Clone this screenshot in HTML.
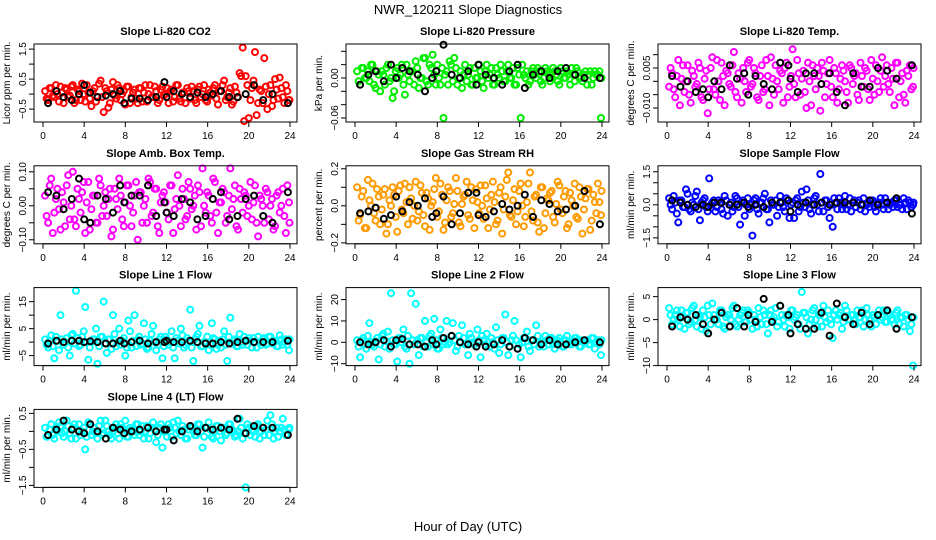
<!DOCTYPE html>
<html><head><meta charset="utf-8"><style>
html,body{margin:0;padding:0;background:#fff;}
svg{display:block;font-family:"Liberation Sans",sans-serif;}
</style></head><body>
<svg id="chart" width="936" height="540" viewBox="0 0 936 540" xmlns="http://www.w3.org/2000/svg">
<rect width="936" height="540" fill="#fff"/>
<text x="468" y="14" text-anchor="middle" font-size="13">NWR_120211  Slope Diagnostics</text>
<text x="468" y="531" text-anchor="middle" font-size="13">Hour of Day (UTC)</text>
</svg>
<script>
const hours = [0.2,0.5,0.8,1.1,1.4,1.7,2.0,2.3,2.6,2.9,3.2,3.5,3.8,4.1,4.4,4.7,5.0,5.3,5.6,5.9,6.2,6.5,6.8,7.1,7.4,7.7,8.0,8.3,8.6,8.9,9.2,9.5,9.8,10.1,10.4,10.7,11.0,11.3,11.6,11.9,12.2,12.5,12.8,13.1,13.4,13.7,14.0,14.3,14.6,14.9,15.2,15.5,15.8,16.1,16.4,16.7,17.0,17.3,17.6,17.9,18.2,18.5,18.8,19.1,19.4,19.7,20.0,20.3,20.6,20.9,21.2,21.5,21.8,22.1,22.4,22.7,23.0,23.3,23.6,23.9];
const hoursB = [0.35,0.65,0.95,1.25,1.55,1.85,2.15,2.45,2.75,3.05,3.35,3.65,3.95,4.25,4.55,4.85,5.15,5.45,5.75,6.05,6.35,6.65,6.95,7.25,7.55,7.85,8.15,8.45,8.75,9.05,9.35,9.65,9.95,10.25,10.55,10.85,11.15,11.45,11.75,12.05,12.35,12.65,12.95,13.25,13.55,13.85,14.15,14.45,14.75,15.05,15.35,15.65,15.95,16.25,16.55,16.85,17.15,17.45,17.75,18.05,18.35,18.65,18.95,19.25,19.55,19.85,20.15,20.45,20.75,21.05,21.35,21.65,21.95,22.25,22.55,22.85,23.15,23.45,23.75,23.95];
const hoursK = [0.5,1.3,2.0,2.8,3.5,4.0,4.6,5.3,6.1,6.8,7.5,7.9,8.6,9.4,10.2,11.0,11.8,12.0,12.7,13.5,14.3,15.0,15.8,16.5,17.3,18.1,18.9,19.7,20.5,21.4,22.3,23.8];
const xTicks = [0,4,8,12,16,20,24];

const co2A = [0.1,-0.2,0.2,-0.1,0.0,0.25,-0.3,0.15,-0.05,0.3,-0.2,0.1,0.35,-0.25,0.05,-0.4,0.2,-0.1,0.45,-0.6,0.1,-0.3,0.4,-0.15,0.2,0.0,-0.35,0.25,-0.1,0.15,-0.3,0.2,0.05,-0.25,0.3,-0.1,0.1,-0.2,0.25,0.0,-0.3,0.15,-0.1,0.3,-0.25,0.05,0.2,-0.15,0.1,-0.3,0.25,0.0,-0.2,0.15,-0.05,0.3,-0.35,0.1,0.45,-0.1,0.2,-0.25,0.05,0.7,1.55,0.6,-0.8,0.2,1.4,-0.3,0.1,1.2,-0.5,0.3,-0.2,0.15,0.55,-0.1,0.3,-0.2];
const co2B = [-0.15,0.2,-0.05,0.3,-0.25,0.05,0.2,-0.1,0.25,-0.3,0.15,-0.2,0.0,0.3,-0.15,0.1,-0.25,0.35,-0.1,0.2,-0.45,0.15,-0.05,0.3,-0.2,0.1,0.25,-0.3,0.05,-0.15,0.2,-0.25,0.3,0.0,-0.1,0.25,-0.3,0.15,-0.05,0.2,0.1,-0.25,0.3,-0.15,0.05,-0.3,0.1,0.25,-0.2,0.15,-0.1,0.3,-0.25,0.05,0.2,-0.15,0.1,0.3,-0.2,0.05,-0.35,0.25,-0.1,0.6,-0.9,0.3,-0.2,0.45,-0.7,0.15,-0.3,0.25,0.0,-0.4,0.5,-0.15,0.2,-0.3,0.1,-0.2];
const co2K = [-0.3,0.1,-0.1,-0.2,0.0,0.3,0.05,-0.1,-0.05,0.0,0.1,-0.3,-0.15,-0.15,-0.2,-0.1,0.4,-0.1,0.1,0.0,-0.1,0.05,-0.1,0.0,0.1,-0.1,-0.1,0.0,0.3,-0.2,0.0,-0.3];

const presA = [0.01,-0.01,0.015,0.0,-0.005,0.02,-0.015,0.005,0.01,-0.01,0.02,0.0,-0.02,0.015,0.005,-0.01,0.02,-0.005,0.01,0.025,-0.015,0.0,0.03,-0.01,0.015,0.005,0.02,-0.01,-0.06,0.01,0.025,-0.005,0.015,0.0,-0.015,0.02,0.005,-0.01,0.015,0.0,0.01,-0.015,0.02,0.005,-0.01,0.015,0.0,0.01,-0.005,0.02,0.0,-0.01,0.015,-0.06,0.005,0.01,-0.005,0.015,0.0,0.01,-0.01,0.015,0.005,0.0,0.01,-0.005,0.015,0.0,0.01,-0.01,0.005,0.015,0.0,-0.005,0.01,0.005,-0.01,0.01,0.005,-0.06];
const presB = [-0.005,0.015,0.0,0.01,0.02,-0.01,0.01,-0.02,0.005,0.015,-0.005,-0.03,0.01,0.0,0.02,-0.025,0.005,0.01,-0.01,0.015,0.0,0.03,-0.005,0.02,0.035,-0.01,0.0,0.015,0.005,-0.01,0.02,0.03,-0.01,0.01,0.005,-0.005,0.015,-0.01,0.0,0.02,-0.005,0.01,0.0,0.015,-0.01,0.005,0.02,-0.005,0.01,0.0,0.015,-0.01,0.005,0.02,0.0,-0.01,0.01,0.005,0.015,-0.005,0.0,0.01,-0.005,0.015,0.005,-0.01,0.01,0.0,0.005,0.015,-0.005,0.01,0.0,0.005,-0.01,0.01,0.0,0.005,0.01,0.0];
const presK = [-0.01,0.005,0.01,-0.005,0.02,0.0,0.015,0.01,0.005,-0.02,0.0,0.01,0.05,0.005,0.0,0.01,-0.01,0.02,0.005,0.0,-0.01,0.01,0.02,-0.015,0.005,0.01,0.0,0.01,0.015,0.005,0.0,0.0];

const tempA = [-0.002,0.003,-0.006,0.008,0.001,-0.004,0.006,-0.008,0.002,-0.001,0.005,-0.007,0.004,-0.003,0.009,-0.005,0.0,0.007,-0.009,0.003,-0.002,0.011,-0.006,0.001,0.005,-0.004,0.008,-0.001,0.003,-0.007,0.006,-0.003,0.002,0.009,-0.005,0.0,0.004,-0.008,0.007,-0.002,0.012,-0.006,0.003,0.001,-0.004,0.007,-0.009,0.002,0.005,-0.011,0.004,-0.001,0.008,-0.006,0.003,-0.003,0.006,0.0,-0.008,0.005,0.002,-0.005,0.007,-0.002,0.004,-0.007,0.001,0.006,-0.004,0.009,0.002,-0.001,0.005,-0.009,0.007,0.0,-0.005,0.004,0.006,-0.002];
const tempB = [0.005,-0.003,0.002,-0.009,0.006,0.0,-0.005,0.004,-0.002,0.007,-0.006,0.001,-0.012,0.005,-0.003,0.008,-0.007,0.002,0.004,-0.001,0.006,-0.004,0.003,-0.008,0.0,0.007,-0.002,0.005,-0.006,0.002,-0.004,0.008,-0.009,0.001,0.006,-0.003,0.003,0.005,-0.006,0.002,-0.001,0.008,-0.005,0.004,-0.01,0.0,0.006,-0.003,0.002,0.007,-0.006,0.003,-0.002,0.005,-0.008,0.001,0.004,-0.004,0.006,-0.001,0.003,-0.007,0.002,0.005,-0.003,0.008,-0.005,0.0,0.004,-0.002,0.006,-0.004,0.001,0.007,-0.006,0.003,-0.008,0.002,-0.003,0.005];
const tempK = [0.002,-0.002,0.0,-0.004,-0.003,-0.006,0.0,-0.003,0.006,0.001,0.003,-0.005,0.002,-0.001,-0.003,0.007,0.006,0.001,-0.004,0.003,0.003,-0.001,0.003,-0.004,-0.009,0.003,-0.002,-0.002,0.005,0.004,0.001,0.006];

const ambA = [0.03,-0.05,0.08,-0.02,0.05,-0.07,0.01,0.06,-0.04,0.1,-0.06,0.02,0.04,-0.08,0.07,-0.01,0.03,-0.05,0.06,0.0,-0.03,0.05,-0.07,0.02,0.08,-0.04,0.01,0.06,-0.06,0.03,-0.1,0.04,0.0,-0.05,0.07,-0.02,0.05,-0.08,0.03,0.01,-0.04,0.06,-0.01,0.09,-0.06,0.02,-0.03,0.05,0.0,-0.07,0.04,0.11,-0.02,0.03,-0.05,0.07,-0.08,0.01,0.04,-0.03,0.11,0.02,-0.06,0.05,-0.02,0.03,0.0,-0.04,0.06,-0.09,0.02,-0.05,0.04,0.0,-0.07,0.03,-0.02,0.05,-0.08,0.01];
const ambB = [-0.03,0.06,-0.08,0.02,-0.01,0.04,-0.06,0.09,0.0,-0.04,0.05,-0.02,0.07,0.01,-0.07,0.03,-0.05,0.08,-0.03,0.04,0.02,-0.09,0.05,-0.01,0.03,-0.06,0.06,0.0,-0.02,0.07,0.04,-0.05,0.02,0.08,-0.03,0.05,-0.06,0.01,0.04,-0.02,0.06,-0.08,0.02,0.0,0.05,-0.04,0.07,-0.01,0.03,0.06,-0.06,0.0,0.04,-0.03,0.08,-0.02,0.01,0.05,-0.05,0.03,-0.01,0.06,-0.07,0.02,0.04,-0.03,0.07,0.01,-0.05,0.03,0.0,0.05,-0.04,0.02,-0.06,0.04,0.0,-0.03,0.06,-0.05];
const ambK = [0.04,0.03,-0.01,0.02,0.08,-0.04,-0.05,0.03,0.02,-0.02,0.06,0.01,0.03,0.03,0.06,-0.03,0.01,-0.02,-0.03,0.02,0.01,-0.04,-0.03,0.02,0.04,-0.04,-0.03,0.02,0.03,-0.03,-0.05,0.04];

const rhA = [0.1,-0.05,0.08,-0.12,0.03,0.12,-0.08,0.05,-0.02,0.09,-0.1,0.0,0.06,-0.14,0.11,-0.04,0.02,0.1,-0.07,0.13,-0.03,0.07,-0.11,0.04,0.0,0.09,-0.06,0.12,-0.13,0.03,0.08,-0.04,0.15,-0.09,0.01,0.06,-0.05,0.1,-0.12,0.02,0.11,-0.07,0.04,-0.02,0.13,-0.1,0.07,-0.15,0.05,0.18,-0.06,0.09,-0.03,0.12,-0.11,0.02,0.18,-0.08,0.06,-0.14,0.1,-0.04,0.03,0.08,-0.09,0.13,-0.02,0.05,-0.12,0.07,0.0,-0.06,0.1,-0.15,0.04,0.09,-0.08,0.02,0.12,-0.05];
const rhB = [-0.08,0.05,-0.12,0.14,0.0,-0.04,0.09,-0.1,0.06,-0.15,0.03,0.1,-0.06,0.08,-0.02,0.12,-0.1,0.04,0.0,-0.08,0.11,-0.05,0.07,-0.13,0.02,0.15,-0.03,0.06,-0.09,0.1,-0.06,0.01,0.08,-0.11,0.05,0.13,-0.07,0.03,0.09,-0.04,0.0,0.11,-0.12,0.06,0.02,-0.08,0.1,-0.02,0.14,-0.05,0.03,-0.1,0.08,0.0,-0.06,0.12,-0.03,0.05,-0.09,0.1,-0.12,0.04,0.07,-0.06,0.01,0.11,-0.04,0.08,-0.1,0.03,0.12,-0.07,0.05,-0.02,0.09,-0.13,0.06,-0.04,0.02,0.08];
const rhK = [-0.04,-0.03,-0.01,-0.07,-0.05,0.05,-0.03,0.02,0.0,0.04,-0.06,-0.04,0.05,-0.1,-0.04,0.07,0.07,-0.05,-0.06,-0.03,0.01,-0.02,0.0,0.06,-0.06,0.03,0.01,-0.03,-0.02,0.0,0.08,-0.1];

const sflA = [0.3,-0.2,0.1,-0.8,0.2,-0.1,0.5,-0.3,0.0,0.6,-0.7,0.2,-0.1,1.2,0.1,-0.3,0.2,-0.2,0.4,-0.5,0.1,-0.1,0.3,-0.9,0.2,0.0,-0.2,-1.4,0.3,-0.4,0.1,0.5,-0.2,0.2,0.0,-0.5,0.4,-0.1,0.3,-0.6,0.1,0.2,-0.3,0.6,-0.1,0.2,-0.4,0.3,0.0,1.4,-0.3,0.2,-0.6,-1.0,0.1,0.3,-0.2,0.4,0.0,-0.3,0.2,0.1,-0.2,0.3,0.0,-0.1,0.2,-0.3,0.1,0.0,0.3,-0.2,0.1,0.2,-0.1,0.0,0.3,-0.2,0.1,0.0];
const sflB = [0.0,0.4,-0.4,0.2,-0.1,0.7,-0.2,0.1,0.4,-0.2,0.1,0.3,-0.3,0.0,0.2,-0.1,0.1,-0.4,0.2,0.0,-0.3,0.4,-0.1,0.1,-0.5,0.3,0.0,0.2,-0.2,0.1,0.3,-0.2,-0.8,0.0,0.2,-0.1,0.1,-0.3,0.2,0.0,-0.6,0.3,-0.1,0.1,0.7,-0.2,0.0,0.4,-0.3,0.1,0.2,-0.1,0.0,0.3,-0.2,0.1,0.0,-0.2,0.3,0.1,-0.1,0.2,0.0,-0.3,0.1,0.2,-0.1,0.0,0.3,-0.2,0.1,0.0,-0.1,0.2,0.0,-0.2,0.1,0.2,-0.1,0.1];
const sflK = [0.2,0.1,0.0,-0.1,0.0,-0.1,0.1,0.1,0.0,0.0,0.1,-0.1,0.0,-0.1,0.1,0.1,0.2,-0.3,0.0,0.1,0.0,0.1,0.0,0.1,0.1,0.1,0.0,0.2,0.0,0.1,0.3,-0.4];

const l1A = [1.0,-2.0,2.5,-6.0,0.5,10.0,-1.0,1.5,-5.0,3.0,19.0,-1.5,2.0,13.0,-6.5,0.0,1.0,-8.0,2.0,15.0,-4.0,1.0,10.0,-1.5,5.0,0.5,-5.0,8.0,-2.0,10.0,1.0,-1.0,7.0,-2.5,0.5,6.0,-3.0,1.0,-6.0,2.0,-1.0,4.0,-6.0,0.5,5.0,-2.0,1.5,12.0,-7.0,2.0,6.0,-1.5,0.0,-3.0,7.0,1.0,-1.0,-2.0,4.0,-7.0,9.0,0.5,-1.5,3.0,-1.0,0.5,1.5,-2.0,0.0,2.0,-1.0,1.5,-0.5,2.0,0.0,-1.5,2.5,-1.0,1.0,-3.0];
const l1B = [-1.0,0.5,-1.5,2.0,-3.0,1.0,0.0,-2.0,2.5,-0.5,1.5,-1.0,4.0,0.0,-2.0,1.0,5.0,-1.5,2.0,-0.5,1.0,-2.5,3.0,0.0,-1.0,1.5,-2.0,4.0,0.5,-1.5,2.0,-0.5,1.0,-2.0,3.0,0.0,-1.0,2.0,-1.5,1.0,0.0,-2.0,1.5,-0.5,2.5,-1.0,0.5,-2.0,1.0,3.0,-1.5,0.0,2.0,-1.0,1.5,-2.5,0.5,1.0,-1.0,2.0,-0.5,1.0,-1.5,0.0,2.0,-1.0,0.5,1.5,-2.0,0.0,1.0,-1.0,2.0,-0.5,0.5,-1.5,1.0,0.0,-1.0,1.0];
const l1K = [-0.5,0.5,0.0,0.5,0.5,0.0,0.3,0.0,-0.5,-0.5,0.5,-0.5,0.0,0.5,-0.5,0.0,0.0,0.5,0.0,0.0,0.5,0.0,-0.5,-0.5,0.0,-0.5,0.0,0.5,0.0,0.0,0.0,0.5];

const l2A = [1.0,-7.0,2.0,-3.0,9.0,-1.0,0.5,-8.0,3.0,-2.0,5.0,23.0,-1.0,-9.0,2.0,6.0,-3.0,-10.0,1.0,18.0,-6.0,2.0,10.0,-2.0,4.0,11.0,-3.0,6.0,-1.0,10.0,0.0,9.0,-4.0,3.0,8.0,-1.0,-6.0,2.0,-1.0,6.0,-7.0,1.0,4.0,-2.0,0.0,7.0,-5.0,2.0,13.0,-6.0,1.0,10.0,-3.0,-7.0,2.0,5.0,-4.0,1.0,8.0,-2.0,0.0,3.0,-1.0,2.0,-3.0,1.0,0.0,-2.0,3.0,-1.0,0.0,2.0,-2.0,1.0,0.0,-1.0,2.0,-3.0,1.0,-6.0];
const l2B = [-2.0,1.0,-1.0,3.0,0.0,-2.0,2.0,-1.0,4.0,0.5,-3.0,1.0,-1.0,2.0,0.0,-2.0,3.0,23.0,-1.0,1.0,2.0,-2.0,0.0,3.0,-1.0,1.0,-3.0,2.0,0.0,-1.0,3.0,1.0,-2.0,0.0,2.0,-1.0,4.0,0.0,-2.0,1.0,3.0,-1.0,0.0,2.0,-3.0,1.0,-1.0,2.0,0.0,-2.0,3.0,1.0,-1.0,0.0,2.0,-2.0,1.0,-1.0,3.0,0.0,-2.0,1.0,2.0,-1.0,0.0,2.0,-2.0,1.0,0.0,-1.0,2.0,1.0,-2.0,0.0,1.0,-1.0,2.0,0.0,-1.0,1.0];
const l2K = [0.0,-1.0,0.0,1.0,-2.0,1.0,1.5,-1.0,-1.0,-2.0,1.0,-1.0,2.0,3.0,0.0,-1.0,-2.0,0.0,-2.0,-1.0,1.0,-2.0,-3.0,2.0,1.0,-1.0,1.0,-1.0,-1.0,0.0,1.0,0.0];

const l3A = [2.5,-1.0,1.0,0.0,2.0,-2.0,1.5,-0.5,3.0,-1.5,0.5,2.0,-2.5,1.0,3.5,0.0,-1.0,2.0,-2.0,1.0,0.0,3.0,-1.5,1.0,2.0,-0.5,1.5,-2.0,0.0,2.5,-1.0,1.0,-3.0,2.0,0.5,-1.5,3.0,0.0,1.0,-2.0,2.0,0.5,-1.0,6.0,1.5,-3.0,0.0,2.5,-1.5,1.0,3.0,-0.5,0.0,-4.0,2.0,1.0,-2.0,3.0,0.0,1.0,-1.0,2.0,0.5,-1.5,2.5,0.0,1.0,-1.0,2.0,0.5,-0.5,1.5,0.0,-1.0,2.0,0.5,-1.5,1.0,-2.5,-10.0];
const l3B = [1.0,0.0,2.0,-1.5,0.5,1.5,-1.0,2.5,0.0,1.0,-2.0,0.5,3.0,-1.0,1.0,0.0,2.0,-1.5,0.5,1.0,2.5,-1.0,0.0,1.5,-0.5,2.0,0.0,1.0,-1.5,0.5,2.0,-1.0,1.0,0.0,2.5,-0.5,1.0,-1.5,0.5,2.0,0.0,1.0,-2.0,1.5,0.5,-1.0,2.0,0.0,1.0,-1.5,0.5,2.0,-1.0,1.0,0.0,1.5,-0.5,2.0,0.0,1.0,-1.0,0.5,2.0,0.0,1.0,-1.5,0.5,1.0,0.0,2.0,-0.5,1.0,0.0,1.5,-1.0,0.5,1.0,0.0,-1.0,0.5];
const l3K = [-1.5,0.5,0.0,1.0,-1.0,-3.0,0.0,1.5,-1.5,2.5,-1.5,1.0,-0.5,4.5,-0.5,3.0,1.0,-3.0,-1.0,-2.0,-2.0,1.5,-3.5,3.5,0.5,-1.0,1.5,-1.0,1.0,2.0,-2.0,0.5];

const l4A = [0.1,-0.1,0.2,-0.2,0.0,0.15,-0.15,0.3,-0.05,0.1,-0.2,0.2,0.0,-0.5,0.25,-0.1,0.1,-0.2,0.3,-0.05,0.15,-0.1,0.0,0.2,-0.2,0.1,0.3,-0.15,0.05,-0.1,0.2,0.0,-0.2,0.15,-0.05,0.25,-0.3,0.1,-0.45,0.0,0.2,-0.15,0.1,0.3,-0.1,0.05,-0.2,0.15,0.0,-0.1,0.2,-0.45,0.1,0.25,-0.15,0.0,0.15,-0.25,0.1,-0.05,0.2,0.0,-0.1,0.35,-0.2,-1.6,0.1,0.05,-0.15,0.2,0.0,-0.1,0.3,0.45,-0.2,0.1,0.0,0.35,-0.1,0.05];
const l4B = [-0.15,0.05,-0.1,0.1,0.25,-0.05,0.0,0.15,-0.2,0.2,0.05,-0.1,0.1,-0.15,0.2,0.0,-0.05,0.15,-0.1,0.3,0.0,-0.2,0.1,-0.05,0.2,0.05,-0.15,0.1,0.0,0.2,-0.1,0.15,0.0,-0.2,0.1,0.05,-0.1,0.2,0.0,-0.15,0.1,0.25,-0.05,0.0,0.15,-0.2,0.05,0.1,-0.1,0.2,0.0,-0.15,0.1,0.05,-0.2,0.15,0.0,0.1,-0.1,0.2,0.05,-0.15,0.0,0.1,-0.05,0.2,-0.1,0.0,0.15,-0.2,0.1,0.05,-0.1,0.2,0.0,-0.15,0.1,0.05,-0.1,0.1];
const l4K = [-0.1,0.05,0.3,0.05,0.0,-0.05,0.2,0.0,-0.2,0.1,0.05,-0.05,0.0,0.05,0.1,0.0,0.05,0.05,-0.25,0.0,0.15,0.0,0.1,0.05,0.1,0.05,0.35,-0.05,0.15,0.1,0.1,-0.1];

const panelTitles = ["Slope Li-820 CO2","Slope Li-820 Pressure","Slope Li-820 Temp.","Slope Amb. Box Temp.","Slope Gas Stream RH","Slope Sample Flow","Slope Line 1 Flow","Slope Line 2 Flow","Slope Line 3 Flow","Slope Line 4 (LT) Flow"];
const yTitles = ["Licor ppm per min.","kPa per min.","degrees C per min.","degrees C per min.","percent per min.","ml/min per min.","ml/min per min.","ml/min per min.","ml/min per min.","ml/min per min."];
const yTicks = [[-0.5,0,0.5,1,1.5],[-0.06,-0.04,-0.02,0,0.02,0.04],[-0.01,-0.005,0,0.005,0.01],[-0.1,-0.05,0,0.05,0.1],[-0.2,-0.1,0,0.1,0.2],[-1.5,-1,-0.5,0,0.5,1,1.5],[-5,0,5,10,15],[-10,0,10,20],[-10,-5,0,5],[-1.5,-1,-0.5,0,0.5]];
const yTickLabels = [["-0.5","","0.5","","1.5"],["-0.06","","","0.00","",""],["-0.010","","","0.005",""],["-0.10","","0.00","","0.10"],["-0.2","","0.0","","0.2"],["-1.5","","","0.0","","","1.5"],["-5","","5","","15"],["-10","0","10","20"],["-10","-5","0","5"],["-1.5","","-0.5","","0.5"]];
const yDomains = [[-0.93,1.67],[-0.066,0.051],[-0.01525,0.014],[-0.1118,0.1176],[-0.205,0.216],[-1.77,1.77],[-8.7,20.2],[-10.9,25.6],[-10,6.96],[-1.556,0.61]];
const seriesA = [co2A,presA,tempA,ambA,rhA,sflA,l1A,l2A,l3A,l4A];
const seriesB = [co2B,presB,tempB,ambB,rhB,sflB,l1B,l2B,l3B,l4B];
const seriesK = [co2K,presK,tempK,ambK,rhK,sflK,l1K,l2K,l3K,l4K];
const colors = ["#ff0000","#00ee00","#ff00ff","#ff00ff","#ff9a00","#0000ff","#00ffff","#00ffff","#00ffff","#00ffff"];

const NS = "http://www.w3.org/2000/svg";
const svg = document.getElementById('chart');
function mk(tag, attrs, parent){const e=document.createElementNS(NS,tag);for(const k in attrs)e.setAttribute(k,attrs[k]);(parent||svg).appendChild(e);return e;}

for (let p=0;p<10;p++){
  const col=p%3, row=Math.floor(p/3);
  const bx=34+312*col, bw=263;
  const by=44+121.8*row, bh=78;
  const x0=bx+9, x1=bx+256;
  const [lo,hi]=yDomains[p];
  const xs=h=>x0+(h/24)*(x1-x0);
  const ys=v=>by+bh-(v-lo)/(hi-lo)*bh;
  const g=mk('g',{});
  
  
  const t=mk('text',{x:bx+bw/2,y:by-9,'text-anchor':'middle','font-size':'11','font-weight':'bold'},g);
  t.textContent=panelTitles[p];
  
  
  const cg=mk('g',{},g);
  const pts=[[hours,seriesA[p],colors[p]],[hoursB,seriesB[p],colors[p]]];
  for(const [hx,vals,c] of pts){
    const n=Math.min(hx.length,vals.length);
    for(let i=0;i<n;i++){
      const v=Math.max(lo,Math.min(hi,vals[i]));
      const cc=mk('circle',{cx:xs(hx[i]).toFixed(1),cy:ys(v).toFixed(1),r:3,fill:'none',stroke:c,'stroke-width':2},cg);
      
      
    }
  }
  const kv=seriesK[p];
  for(let i=0;i<Math.min(hoursK.length,kv.length);i++){
    const cc=mk('circle',{cx:xs(hoursK[i]).toFixed(1),cy:ys(kv[i]).toFixed(1),r:3,fill:'none',stroke:'#000','stroke-width':2},cg);
    
    
  }
  const box=mk('rect',{x:bx,y:by,width:bw,height:bh,fill:'none',stroke:'#000','stroke-width':1},g);
  
  
  const ax=mk('line',{x1:x0,x2:x1,y1:by+bh,y2:by+bh,stroke:'#000'},g);
  
  
  for(const h of xTicks){
    mk('line',{x1:xs(h),x2:xs(h),y1:by+bh,y2:by+bh+5,stroke:'#000'},g);
    const tl=mk('text',{x:xs(h),y:by+bh+17,'text-anchor':'middle','font-size':'10'},g);
    tl.textContent=h;
    
    
  }
  yTicks[p].forEach((v,i)=>{
    const y=ys(v);
    mk('line',{x1:bx-5,x2:bx,y1:y,y2:y,stroke:'#000'},g);
    const lab=yTickLabels[p][i];
    if(lab){
      const tl=mk('text',{x:bx-8,y:y,'text-anchor':'middle','font-size':'10',transform:`rotate(-90 ${bx-8} ${y})`},g);
      tl.textContent=lab.replace('-','\u2212');
      
      
    }
  });
  const yt=mk('text',{x:bx-24,y:by+bh/2,'text-anchor':'middle','font-size':'10',transform:`rotate(-90 ${bx-24} ${by+bh/2})`},g);
  yt.textContent=yTitles[p];
  
  
}
</script>
</body></html>
